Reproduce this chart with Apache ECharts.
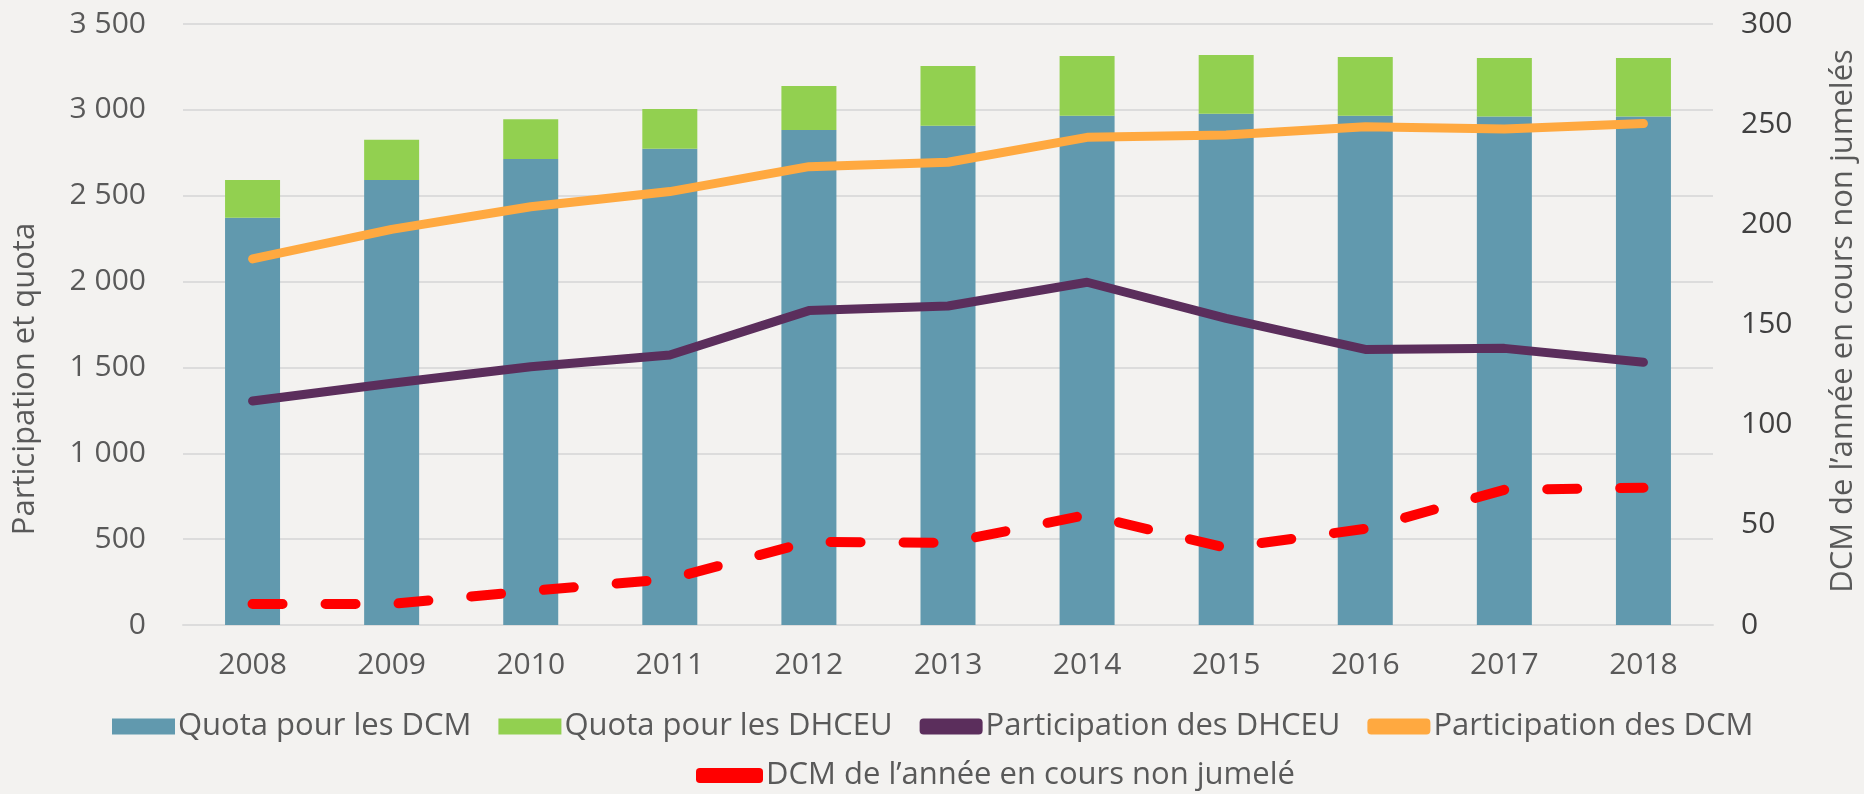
<!DOCTYPE html>
<html>
<head>
<meta charset="utf-8">
<script src="https://cdn.jsdelivr.net/npm/echarts@6/dist/echarts.min.js"></script>
<style>
  html, body { margin: 0; padding: 0; background: #f3f2f0; }
  #chart { width: 1864px; height: 794px; }
</style>
</head>
<body>
<div id="chart"></div>
<script>
const years = ['2008', '2009', '2010', '2011', '2012', '2013', '2014', '2015', '2016', '2017', '2018']
// barres empilées (axe de gauche)
const quotaDCM = [2372, 2592, 2714, 2774, 2883, 2908, 2966, 2978, 2966, 2961, 2961]
const quotaDHCEU = [220, 234, 231, 231, 256, 348, 348, 342, 342, 341, 341]
// courbes (axe de gauche)
const participationDHCEU = [1305, 1408, 1504, 1572, 1831, 1858, 1996, 1786, 1605, 1611, 1530]
const participationDCM = [2132, 2304, 2436, 2524, 2669, 2695, 2840, 2854, 2902, 2889, 2920]
// courbe pointillée (axe de droite)
const nonJumeles = [10.5, 10.5, 17, 23, 41.5, 41, 55, 38.5, 48, 67.5, 68.5]

const leftTicks = { min: 0, max: 3500, interval: 500 }
const rightTicks = { min: 0, max: 300, interval: 50 }

const textColor = '#595959'
const gridColor = '#dcdcdc'
const fontFamily = '"Open Sans", "Noto Sans", sans-serif'
const fontSize = 30
const nameSize = 31
const legendSize = 31

const colors = {
  quotaDCM: '#6199ae',
  quotaDHCEU: '#92d050',
  partDHCEU: '#5b2e5c',
  partDCM: '#ffa940',
  nonJum: '#ff0000'
}

const chart = echarts.init(document.getElementById('chart'))

const legendText = { color: textColor, fontSize: legendSize, fontFamily: fontFamily, padding: [0, 0, 0, -2] }

chart.setOption({
  animation: false,
  backgroundColor: '#f3f2f0',
  textStyle: { fontFamily: fontFamily },
  grid: { left: 183, right: 151, top: 24, bottom: 169 },
  legend: [{
    top: 706,
    left: 107,
    itemWidth: 63,
    itemHeight: 16,
    itemGap: 27,
    textStyle: legendText,
    data: [
      { name: 'Quota pour les DCM', icon: 'rect' },
      { name: 'Quota pour les DHCEU', icon: 'rect' },
      { name: 'Participation des DHCEU', icon: 'roundRect' },
      { name: 'Participation des DCM', icon: 'roundRect' }
    ]
  }, {
    top: 755,
    left: 691,
    itemWidth: 67,
    itemHeight: 15,
    textStyle: legendText,
    data: [{ name: 'DCM de l\u2019année en cours non jumelé', icon: 'roundRect' }]
  }],
  xAxis: {
    type: 'category',
    data: years,
    axisLine: { lineStyle: { color: gridColor, width: 2 } },
    axisTick: { show: false },
    axisLabel: { color: textColor, fontSize: fontSize, margin: 25 }
  },
  yAxis: [{
    type: 'value',
    min: leftTicks.min,
    max: leftTicks.max,
    interval: leftTicks.interval,
    axisLine: { show: false },
    axisTick: { show: false },
    axisLabel: {
      color: textColor,
      fontSize: fontSize,
      margin: 37,
      formatter: v => String(v).replace(/\B(?=(\d{3})+(?!\d))/g, ' ')
    },
    splitLine: { lineStyle: { color: gridColor, width: 2 } }
  }, {
    type: 'value',
    min: rightTicks.min,
    max: rightTicks.max,
    interval: rightTicks.interval,
    axisLine: { show: false },
    axisTick: { show: false },
    axisLabel: { color: '#404040', fontSize: fontSize, margin: 28 },
    splitLine: { show: false }
  }],
  graphic: [{
    type: 'text',
    x: 25,
    y: 379,
    rotation: Math.PI / 2,
    style: {
      text: 'Participation et quota',
      fill: textColor,
      font: nameSize + 'px ' + fontFamily,
      align: 'center',
      verticalAlign: 'middle'
    }
  }, {
    type: 'text',
    x: 1843,
    y: 321,
    rotation: Math.PI / 2,
    style: {
      text: 'DCM de l\u2019année en cours non jumelés',
      fill: textColor,
      font: nameSize + 'px ' + fontFamily,
      align: 'center',
      verticalAlign: 'middle'
    }
  }],
  series: [{
    name: 'Quota pour les DCM',
    type: 'bar',
    stack: 'quota',
    barWidth: 55,
    data: quotaDCM,
    itemStyle: { color: colors.quotaDCM }
  }, {
    name: 'Quota pour les DHCEU',
    type: 'bar',
    stack: 'quota',
    barWidth: 55,
    data: quotaDHCEU,
    itemStyle: { color: colors.quotaDHCEU }
  }, {
    name: 'Participation des DHCEU',
    type: 'line',
    data: participationDHCEU,
    symbol: 'none',
    itemStyle: { color: colors.partDHCEU },
    lineStyle: { color: colors.partDHCEU, width: 9, cap: 'round', join: 'round' }
  }, {
    name: 'Participation des DCM',
    type: 'line',
    data: participationDCM,
    symbol: 'none',
    itemStyle: { color: colors.partDCM },
    lineStyle: { color: colors.partDCM, width: 9, cap: 'round', join: 'round' }
  }, {
    name: 'DCM de l\u2019année en cours non jumelé',
    type: 'line',
    yAxisIndex: 1,
    data: nonJumeles,
    symbol: 'none',
    itemStyle: { color: colors.nonJum },
    lineStyle: { color: colors.nonJum, width: 10, type: [30, 43], cap: 'round', join: 'round' }
  }]
})
</script>
</body>
</html>
